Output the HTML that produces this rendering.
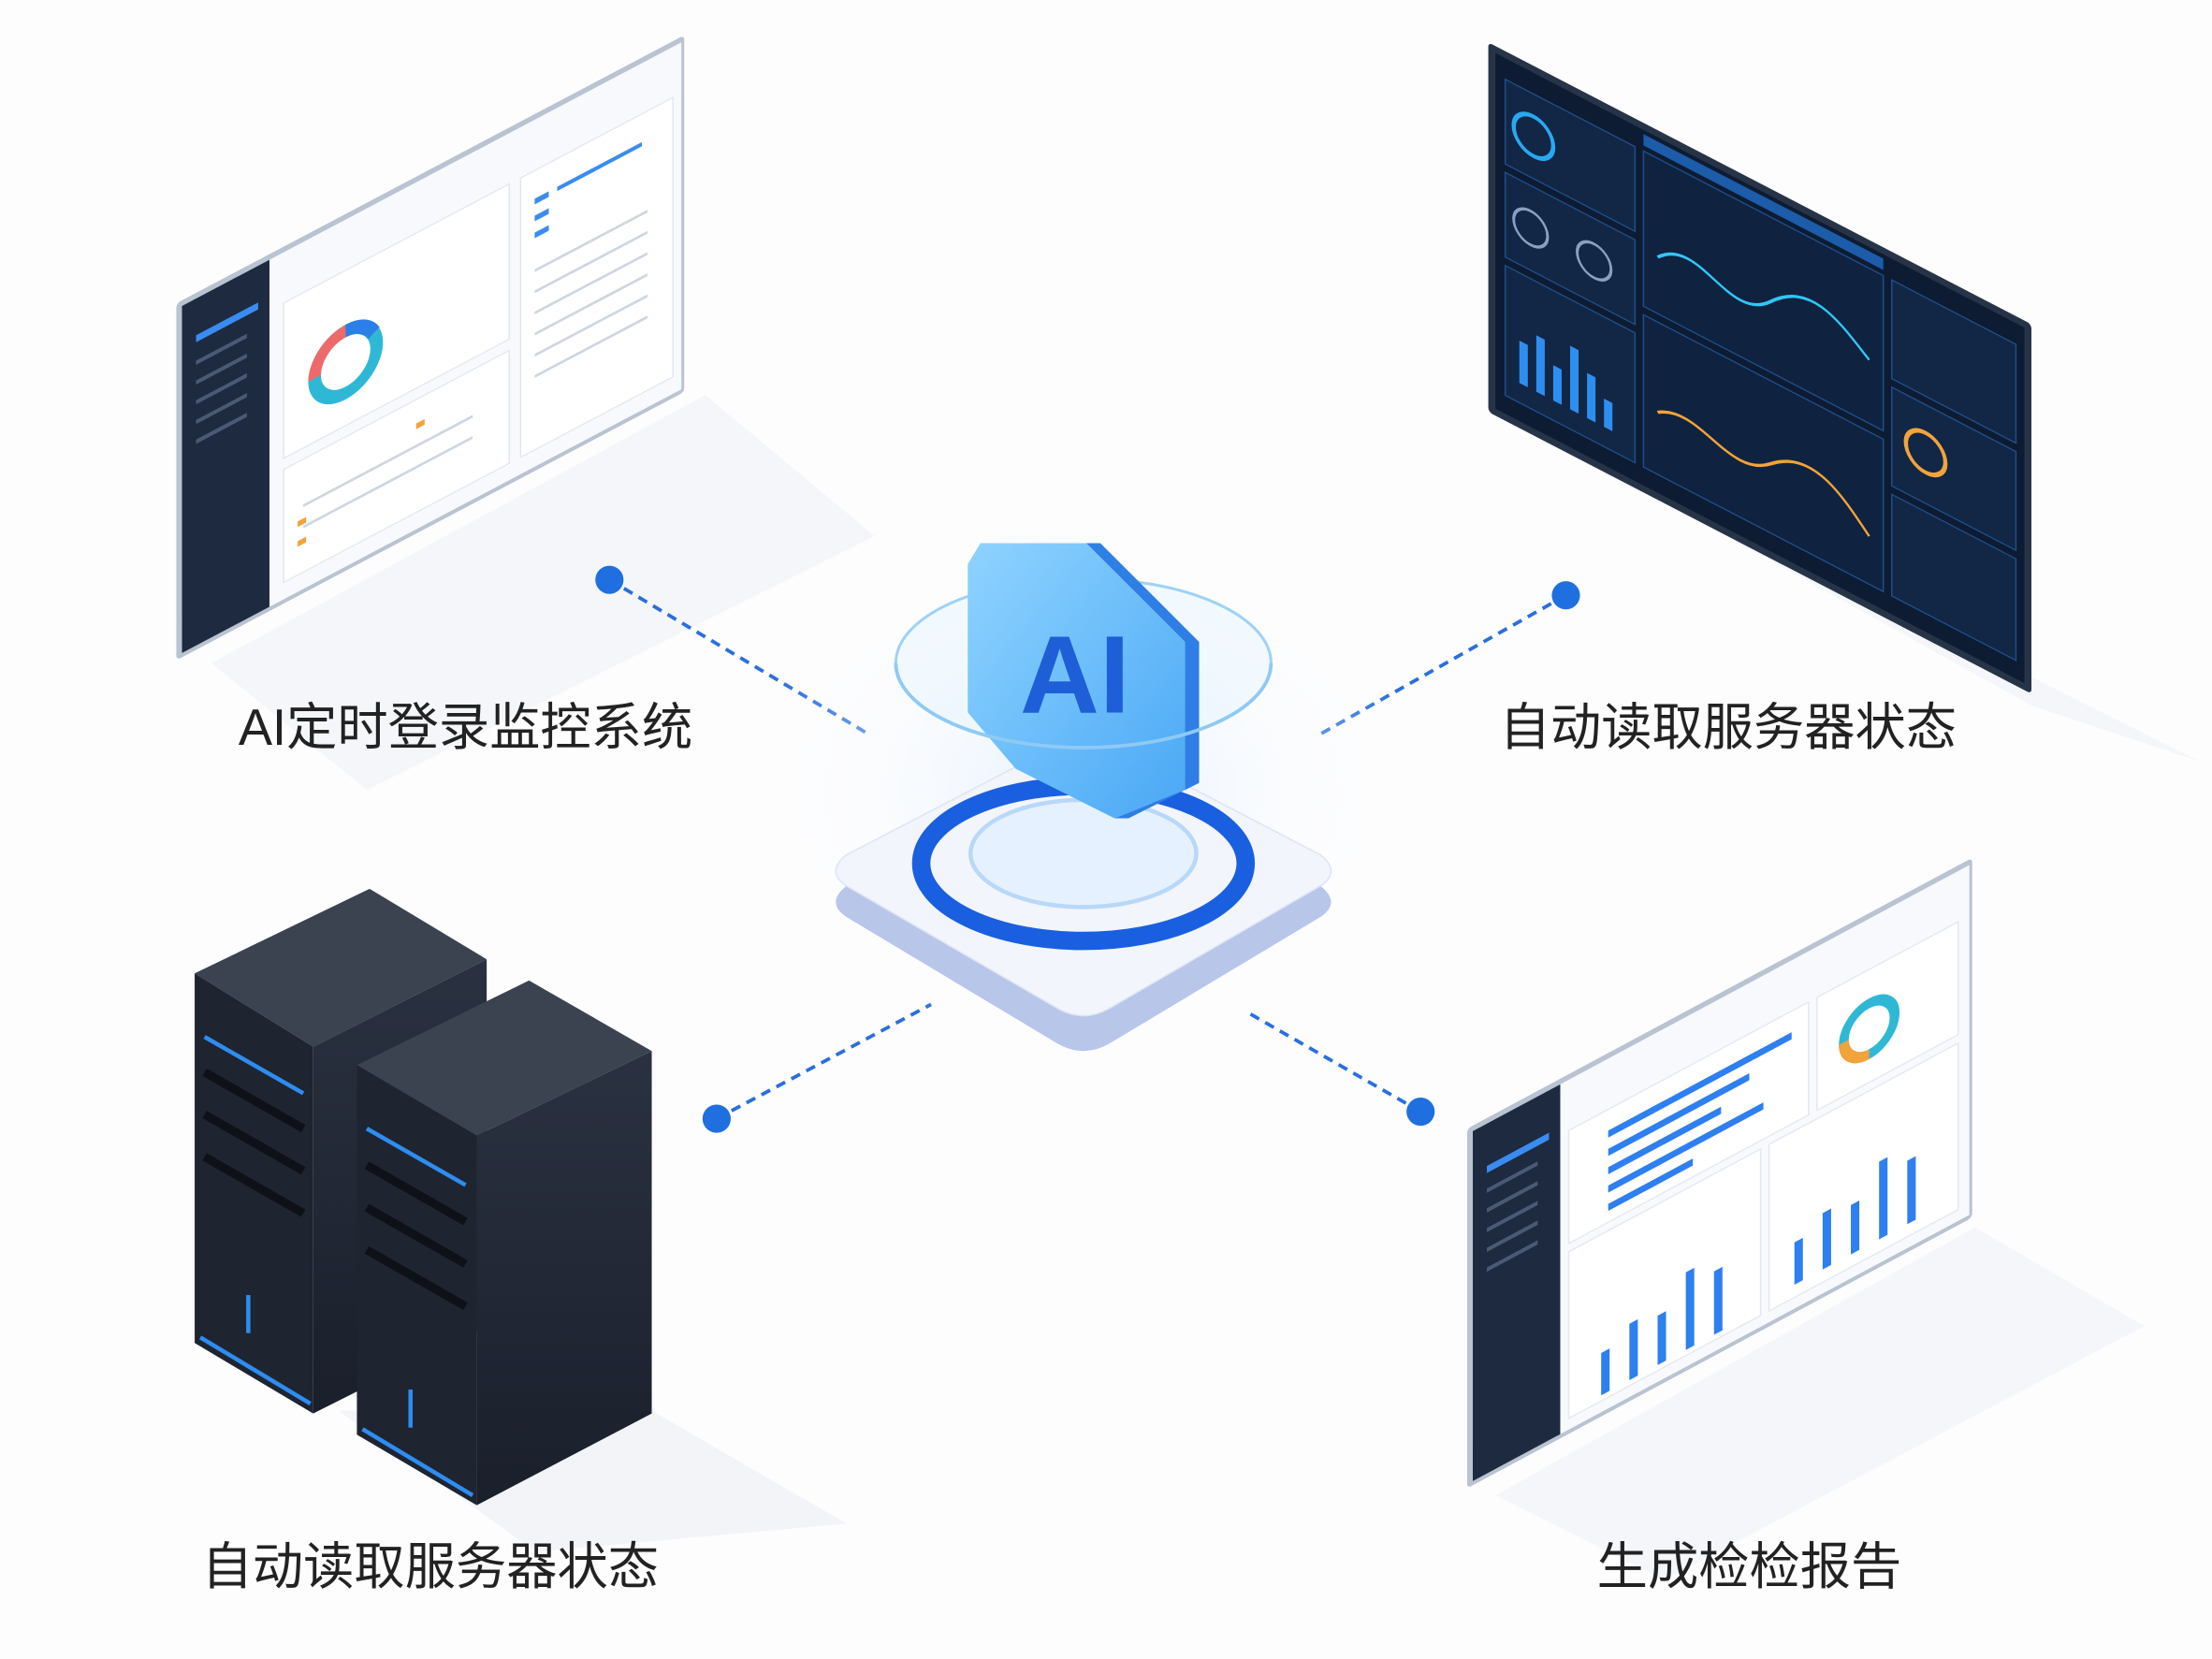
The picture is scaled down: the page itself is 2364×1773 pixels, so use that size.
<!DOCTYPE html>
<html><head><meta charset="utf-8"><style>
html,body{margin:0;padding:0;background:#fff;}
svg{display:block;}
text{font-family:"Liberation Sans","Noto Sans CJK SC",sans-serif;}
</style></head><body>
<svg width="2364" height="1773" viewBox="0 0 1568 1176" xmlns="http://www.w3.org/2000/svg">
<defs>
<linearGradient id="shield" x1="0" y1="0" x2="1" y2="1"><stop offset="0" stop-color="#8fd3ff"/><stop offset="1" stop-color="#4aa8f5"/></linearGradient>
<linearGradient id="srv" x1="0" y1="0" x2="0" y2="1"><stop offset="0" stop-color="#2a3140"/><stop offset="1" stop-color="#1a1f2b"/></linearGradient>
<radialGradient id="glow" cx="0.5" cy="0.5" r="0.5"><stop offset="0" stop-color="#e6f1ff"/><stop offset="1" stop-color="#ffffff" stop-opacity="0"/></radialGradient>
</defs>
<rect width="1568" height="1176" fill="#fdfdfe"/>

<!-- shadows -->
<polygon points="150,470 500,280 620,380 260,560" fill="#eef1f5" opacity="0.6"/>
<polygon points="1080,300 1440,500 1560,540 1200,360" fill="#eef1f5" opacity="0.6"/>
<polygon points="1060,1060 1400,870 1520,940 1180,1120" fill="#eef1f5" opacity="0.6"/>
<polygon points="240,1000 462,1000 600,1080 380,1100" fill="#eceff3" opacity="0.7"/>

<!-- connectors -->
<g stroke="#2a6fdc" stroke-width="2.5" stroke-dasharray="7,5" fill="none">
<line x1="432" y1="411" x2="615" y2="520"/>
<line x1="1110" y1="422" x2="933" y2="522"/>
<line x1="508" y1="793" x2="660" y2="712"/>
<line x1="1007" y1="788" x2="885" y2="718"/>
</g>
<g fill="#1f6fe0">
<circle cx="432" cy="411" r="10"/><circle cx="1110" cy="422" r="10"/>
<circle cx="508" cy="793" r="10"/><circle cx="1007" cy="788" r="10"/>
</g>

<!-- top-left monitor -->
<g transform="matrix(1,-0.528,0,1,125,215)">
<rect x="0" y="0" width="360" height="253" fill="#b9c3d1" rx="3"/>
<rect x="4" y="4" width="354" height="246" fill="#f7f9fc"/>
<rect x="4" y="4" width="62" height="246" fill="#1d2a40"/>
<rect x="14" y="30" width="44" height="5" fill="#3a8cf0"/>
<g fill="#4a5a75"><rect x="14" y="48" width="36" height="3"/><rect x="14" y="62" width="36" height="3"/><rect x="14" y="76" width="36" height="3"/><rect x="14" y="90" width="36" height="3"/><rect x="14" y="104" width="36" height="3"/></g>
<rect x="76" y="40" width="160" height="110" fill="#fff" stroke="#e3e8ef"/>
<rect x="76" y="158" width="160" height="80" fill="#fff" stroke="#e3e8ef"/>
<rect x="244" y="40" width="108" height="198" fill="#fff" stroke="#e3e8ef"/>
<circle cx="120" cy="105" r="22" fill="none" stroke="#2fb8d6" stroke-width="9"/>
<path d="M98,105 A22,22 0 0 1 120,83" fill="none" stroke="#ee6a6a" stroke-width="9"/>
<path d="M120,83 A22,22 0 0 1 140,95" fill="none" stroke="#2d7fe8" stroke-width="9"/>
<g fill="#3a8cf0"><rect x="254" y="60" width="10" height="4"/><rect x="254" y="72" width="10" height="4"/><rect x="254" y="84" width="10" height="4"/><rect x="270" y="60" width="60" height="3"/></g>
<g fill="#cfd6e0"><rect x="254" y="110" width="80" height="2"/><rect x="254" y="125" width="80" height="2"/><rect x="254" y="140" width="80" height="2"/><rect x="254" y="155" width="80" height="2"/><rect x="254" y="170" width="80" height="2"/><rect x="254" y="185" width="80" height="2"/><rect x="90" y="190" width="120" height="2"/><rect x="90" y="205" width="120" height="2"/></g>
<g fill="#f2a33a"><rect x="86" y="200" width="6" height="4"/><rect x="86" y="214" width="6" height="4"/><rect x="170" y="175" width="6" height="4"/></g>
</g>
<text x="330" y="528" font-size="36" text-anchor="middle" fill="#222">AI定时登录监控系统</text>

<!-- top-right monitor -->
<g transform="matrix(1,0.519,0,1,1055,30)">
<rect x="0" y="0" width="385" height="262" fill="#273448" rx="3"/>
<rect x="5" y="5" width="375" height="252" fill="#0d1b33"/>
<rect x="12" y="20" width="92" height="60" fill="#122646" stroke="#1f4f8a"/>
<rect x="12" y="86" width="92" height="60" fill="#122646" stroke="#1f4f8a"/>
<rect x="12" y="152" width="92" height="92" fill="#122646" stroke="#1f4f8a"/>
<rect x="110" y="20" width="170" height="110" fill="#0f2240" stroke="#1f4f8a"/>
<rect x="110" y="136" width="170" height="108" fill="#0f2240" stroke="#1f4f8a"/>
<rect x="286" y="20" width="88" height="70" fill="#122646" stroke="#1f4f8a"/>
<rect x="286" y="96" width="88" height="70" fill="#122646" stroke="#1f4f8a"/>
<rect x="286" y="172" width="88" height="72" fill="#122646" stroke="#1f4f8a"/>
<circle cx="32" cy="50" r="14" fill="none" stroke="#29a8f0" stroke-width="3"/>
<circle cx="30" cy="116" r="12" fill="none" stroke="#8aa0bf" stroke-width="2"/>
<circle cx="75" cy="116" r="12" fill="none" stroke="#8aa0bf" stroke-width="2"/>
<circle cx="310" cy="130" r="14" fill="none" stroke="#f2a33a" stroke-width="3"/>
<g fill="#2e8ef0"><rect x="22" y="200" width="6" height="30"/><rect x="34" y="190" width="6" height="40"/><rect x="46" y="205" width="6" height="25"/><rect x="58" y="185" width="6" height="45"/><rect x="70" y="198" width="6" height="32"/><rect x="82" y="210" width="6" height="20"/></g>
<path d="M120,90 C150,60 170,110 200,80 S250,70 270,85" fill="none" stroke="#32c5f5" stroke-width="2"/>
<path d="M120,200 C150,180 170,220 200,195 S250,190 270,210" fill="none" stroke="#f2a33a" stroke-width="2"/>
<rect x="110" y="8" width="170" height="8" fill="#1c5ca8"/>
</g>
<text x="1225" y="528" font-size="36" text-anchor="middle" fill="#222">自动读取服务器状态</text>

<!-- bottom-right monitor -->
<g transform="matrix(1,-0.536,0,1,1040,800)">
<rect x="0" y="0" width="358" height="255" fill="#b9c3d1" rx="3"/>
<rect x="4" y="4" width="352" height="248" fill="#f7f9fc"/>
<rect x="4" y="4" width="62" height="248" fill="#1d2a40"/>
<rect x="14" y="34" width="44" height="5" fill="#3a8cf0"/>
<g fill="#4a5a75"><rect x="14" y="50" width="36" height="3"/><rect x="14" y="64" width="36" height="3"/><rect x="14" y="78" width="36" height="3"/><rect x="14" y="92" width="36" height="3"/><rect x="14" y="106" width="36" height="3"/></g>
<rect x="72" y="40" width="170" height="80" fill="#fff" stroke="#e3e8ef"/>
<rect x="248" y="40" width="100" height="80" fill="#fff" stroke="#e3e8ef"/>
<rect x="72" y="126" width="136" height="118" fill="#fff" stroke="#e3e8ef"/>
<rect x="214" y="126" width="134" height="118" fill="#fff" stroke="#e3e8ef"/>
<g fill="#2e7ff0"><rect x="100" y="55" width="130" height="5"/><rect x="100" y="68" width="100" height="5"/><rect x="100" y="81" width="80" height="5"/><rect x="100" y="94" width="110" height="5"/><rect x="100" y="107" width="60" height="5"/></g>
<circle cx="285" cy="82" r="18" fill="none" stroke="#2fb8d6" stroke-width="7"/>
<path d="M267,82 A18,18 0 0 0 285,100" fill="none" stroke="#f2a33a" stroke-width="7"/>
<g fill="#2e7ff0"><rect x="95" y="210" width="6" height="30"/><rect x="115" y="200" width="6" height="40"/><rect x="135" y="205" width="6" height="35"/><rect x="155" y="185" width="6" height="55"/><rect x="175" y="195" width="6" height="45"/><rect x="232" y="205" width="6" height="30"/><rect x="252" y="195" width="6" height="40"/><rect x="272" y="200" width="6" height="35"/><rect x="292" y="180" width="6" height="55"/><rect x="312" y="190" width="6" height="45"/></g>
</g>
<text x="1240" y="1123" font-size="36" text-anchor="middle" fill="#222">生成检检报告</text>

<!-- servers -->
<g>
<polygon points="138,690 262,630 345,680 222,742" fill="#3b4250"/>
<polygon points="138,690 222,742 222,1002 138,952" fill="#1e2430"/>
<polygon points="222,742 345,680 345,940 222,1002" fill="url(#srv)"/>
<g stroke="#2f8cf0" stroke-width="3"><line x1="145" y1="735" x2="215" y2="775"/><line x1="142" y1="948" x2="220" y2="995"/><line x1="176" y1="918" x2="176" y2="945"/></g>
<g stroke="#0e1118" stroke-width="6"><line x1="145" y1="760" x2="215" y2="800"/><line x1="145" y1="790" x2="215" y2="830"/><line x1="145" y1="820" x2="215" y2="860"/></g>
<polygon points="253,755 375,695 462,745 338,805" fill="#3b4250"/>
<polygon points="253,755 338,805 338,1067 253,1017" fill="#1e2430"/>
<polygon points="338,805 462,745 462,1002 338,1067" fill="url(#srv)"/>
<g stroke="#2f8cf0" stroke-width="3"><line x1="260" y1="800" x2="330" y2="840"/><line x1="257" y1="1013" x2="335" y2="1060"/><line x1="291" y1="985" x2="291" y2="1012"/></g>
<g stroke="#0e1118" stroke-width="6"><line x1="260" y1="826" x2="330" y2="866"/><line x1="260" y1="856" x2="330" y2="896"/><line x1="260" y1="886" x2="330" y2="926"/></g>
</g>
<text x="305" y="1123" font-size="36" text-anchor="middle" fill="#222">自动读取服务器状态</text>

<!-- central platform -->
<ellipse cx="768" cy="560" rx="240" ry="180" fill="url(#glow)"/>
<path d="M600,650 Q585,640 600,628 L750,548 Q768,540 786,548 L936,628 Q951,640 936,650 L786,740 Q768,750 750,740 Z" fill="#b8c6ea"/>
<path d="M600,628 Q585,618 600,606 L750,528 Q768,520 786,528 L936,606 Q951,618 936,628 L786,715 Q768,725 750,715 Z" fill="#f2f5fc" stroke="#dde4f3"/>
<ellipse cx="768" cy="612" rx="115" ry="55" fill="none" stroke="#1a5fe0" stroke-width="13"/>
<ellipse cx="768" cy="605" rx="80" ry="38" fill="#e6f1ff" stroke="#b9d8f8" stroke-width="3"/>
<ellipse cx="768" cy="470" rx="133" ry="60" fill="#dff0ff" fill-opacity="0.35" stroke="#9fd2f7" stroke-width="2"/>
<polygon points="770,385 780,385 850,455 850,555 800,580 790,580 840,560 840,455" fill="#2f7ee6"/>
<polygon points="695,385 770,385 840,455 840,560 790,580 720,545 686,505 686,400" fill="url(#shield)"/>
<text x="762" y="505" font-size="78" font-weight="bold" text-anchor="middle" fill="#1e5fd8" font-family="Liberation Sans,sans-serif">AI</text>
<path d="M635,470 A133,60 0 0 0 901,470" fill="none" stroke="#8fcaf5" stroke-width="2.5"/>
</svg>
</body></html>
